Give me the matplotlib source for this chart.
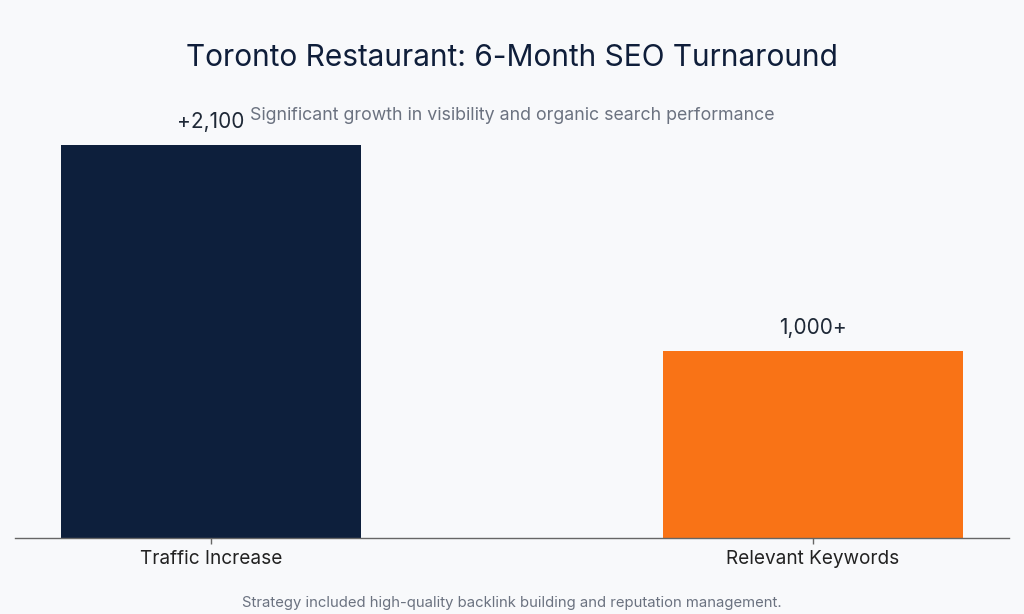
import matplotlib.pyplot as plt

# data
categories = ['Traffic Increase', 'Relevant Keywords']
values = [2100, 1000]
value_labels = ['+2,100', '1,000+']
colors = ['#0d1f3c', '#f97316']

plt.rcParams['font.family'] = ['Inter', 'DejaVu Sans']

bg = '#f8f9fb'
fig = plt.figure(figsize=(10.24, 6.14), dpi=100, facecolor=bg)
ax = fig.add_axes([15 / 1024, 1 - 538 / 614, 994 / 1024, 438 / 614], facecolor=bg)

x = list(range(len(categories)))
ax.bar(x, values, width=0.498, color=colors)

# value labels above bars
for xi, v, lab in zip(x, values, value_labels):
    ax.annotate(lab, (xi, v), xytext=(0, 9), textcoords='offset points',
                ha='center', va='bottom', fontsize=15, color='#1f2937',
                annotation_clip=False)

ax.set_xlim(-0.3256, 1.3256)
ax.set_ylim(0, 2100 * 438 / 393)
ax.set_xticks(x)
ax.set_xticklabels(categories, fontsize=13.7, color='#222222')
ax.tick_params(axis='x', length=4, width=1, color='#666666', pad=5)
ax.set_yticks([])
for s in ['top', 'right', 'left']:
    ax.spines[s].set_visible(False)
ax.spines['bottom'].set_color('#666666')
ax.spines['bottom'].set_linewidth(1)

fig.text(0.5, 1 - 58 / 614, 'Toronto Restaurant: 6-Month SEO Turnaround',
         ha='center', va='center', fontsize=21.5, color='#0f1e3a')
fig.text(0.5, 1 - 116 / 614, 'Significant growth in visibility and organic search performance',
         ha='center', va='center', fontsize=12.8, color='#6b7280')
fig.text(0.5, 1 - 603 / 614, 'Strategy included high-quality backlink building and reputation management.',
         ha='center', va='center', fontsize=10.7, color='#6b7280')

fig.savefig('out.png', dpi=100, facecolor=bg)
